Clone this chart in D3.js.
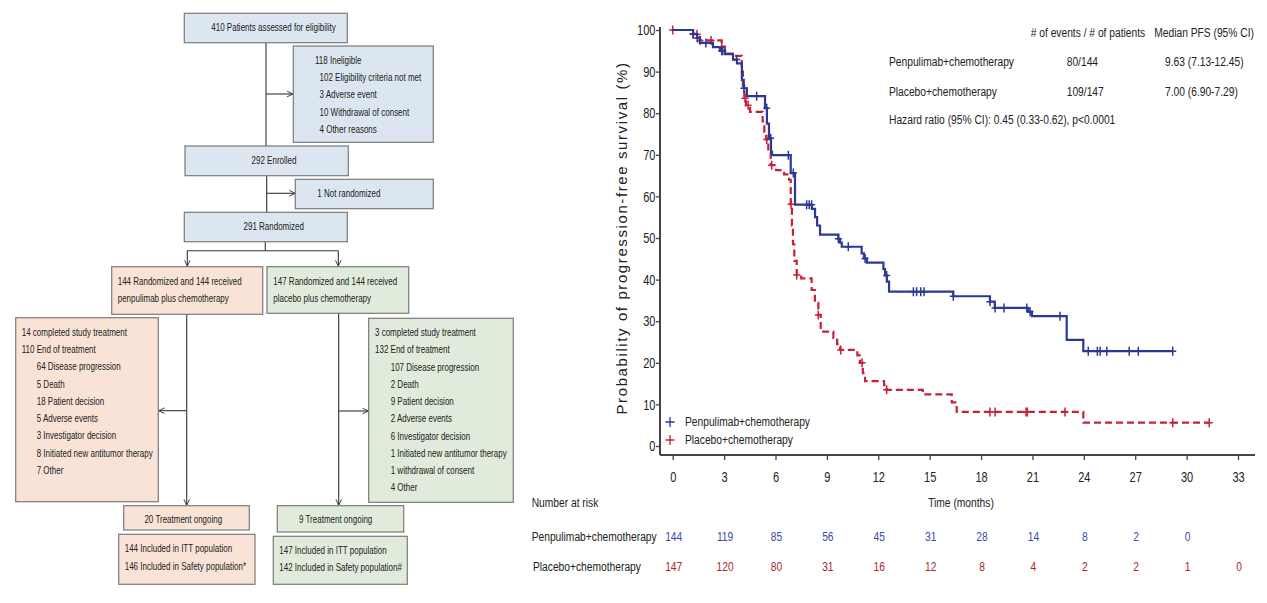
<!DOCTYPE html>
<html>
<head>
<meta charset="utf-8">
<script src="https://cdn.jsdelivr.net/npm/d3@7"></script>
<style>
  body { margin: 0; background: #fff; }
  text { font-family: "Liberation Sans", Arial, sans-serif; }
</style>
</head>
<body>
<script>
// ---- KM data (months, % progression-free) ----
var timeTicks = [0, 3, 6, 9, 12, 15, 18, 21, 24, 27, 30, 33];
var survTicks = [0, 10, 20, 30, 40, 50, 60, 70, 80, 90, 100];

var penTimes = [0, 1.19, 1.42, 1.59, 2.35, 2.76, 3.05, 3.52, 3.75, 4.04, 4.15, 4.33, 5.39, 5.50, 5.62, 5.74, 5.80,
  6.89, 7.14, 8.13, 8.31, 8.43, 8.60, 9.67, 9.77, 9.87, 11.03, 11.17, 11.33, 12.30, 12.40, 12.50, 12.63,
  16.38, 18.52, 18.80, 20.74, 20.97, 23.00, 23.97];
var penSurv = [100, 99.1, 98.1, 96.9, 95.9, 95.0, 94.2, 92.9, 92.0, 88.0, 86.0, 84.1, 81.2, 77.5, 74.0, 70.7, 69.9,
  65.6, 58.0, 57.0, 55.0, 53.0, 50.8, 49.8, 48.9, 47.9, 46.3, 45.1, 44.1, 42.5, 41.0, 39.5, 37.1,
  36.0, 34.7, 33.2, 32.3, 31.2, 25.5, 22.8];
var penEnd = 29.19;
var penCensor = [1.20, 1.44, 1.94, 2.86, 2.92, 3.74, 4.16, 4.90, 5.49, 5.72, 6.75, 7.04, 7.82, 7.97, 8.11,
  9.67, 10.25, 11.23, 12.49, 14.05, 14.24, 14.48, 14.67, 16.38, 18.52, 18.82, 19.34, 20.67, 20.86, 22.61,
  24.26, 24.79, 24.95, 25.34, 26.65, 27.18, 29.19];

var plaTimes = [0, 1.19, 1.59, 2.86, 3.05, 3.50, 4.03, 4.10, 4.18, 4.28, 4.51, 5.25, 5.35, 5.45, 5.58, 5.72,
  6.03, 6.50, 6.79, 6.89, 6.96, 7.02, 7.10, 7.24, 7.50, 8.11, 8.30, 8.50, 8.64, 9.38, 9.60, 9.77,
  10.78, 10.93, 11.10, 11.23, 12.34, 12.49, 14.60, 16.29, 16.58, 23.97];
var plaSurv = [100, 99.0, 97.5, 96.0, 94.3, 93.8, 90.0, 86.5, 83.6, 81.9, 80.3, 78.0, 75.5, 73.7, 70.5, 67.5,
  66.3, 65.3, 64.0, 58.1, 53.0, 48.5, 44.5, 41.1, 40.3, 37.5, 34.5, 31.5, 27.5, 26.0, 24.5, 23.1,
  21.8, 20.0, 17.5, 15.6, 14.6, 13.5, 12.4, 10.5, 8.2, 5.6];
var plaEnd = 31.32;
var plaCensor = [0, 1.19, 1.42, 1.59, 2.24, 2.86, 4.22, 4.40, 5.49, 5.78, 6.91, 7.24, 8.50, 9.81, 11.05,
  12.49, 18.52, 18.82, 20.63, 20.70, 22.90, 29.19, 31.32];

var riskTimes = [0, 3, 6, 9, 12, 15, 18, 21, 24, 27, 30, 33];
var penRisk = [144, 119, 85, 56, 45, 31, 28, 14, 8, 2, 0];
var plaRisk = [147, 120, 80, 31, 16, 12, 8, 4, 2, 2, 1, 0];

var armNames = ["Penpulimab+chemotherapy", "Placebo+chemotherapy"];
var armEvents = ["80/144", "109/147"];
var armMedian = ["9.63 (7.13-12.45)", "7.00 (6.90-7.29)"];
var hrText = "Hazard ratio (95% CI): 0.45 (0.33-0.62), p<0.0001";

// ---- flow diagram texts ----
var flowMain = ["410 Patients assessed for eligibility", "292 Enrolled", "291 Randomized"];
var flowIneligible = ["118 Ineligible", "102 Eligibility criteria not met", "3 Adverse event",
  "10 Withdrawal of consent", "4 Other reasons"];
var flowNotRand = "1 Not randomized";
var flowArmA = ["144 Randomized and 144 received", "penpulimab plus chemotherapy"];
var flowArmB = ["147 Randomized and 144 received", "placebo plus chemotherapy"];
var flowEndA = ["14 completed study treatment", "110 End of treatment", "64 Disease progression", "5 Death",
  "18 Patient decision", "5 Adverse events", "3 Investigator decision", "8 Initiated new antitumor therapy", "7 Other"];
var flowEndB = ["3 completed study treatment", "132 End of treatment", "107 Disease progression", "2 Death",
  "9 Patient decision", "2 Adverse events", "6 Investigator decision", "1 Initiated new antitumor therapy",
  "1 withdrawal of consent", "4 Other"];
var flowOngoing = ["20 Treatment ongoing", "9 Treatment ongoing"];
var flowPopA = ["144 Included in ITT population", "146 Included in Safety population*"];
var flowPopB = ["147 Included in ITT population", "142 Included in Safety population#"];

var W = 1267, H = 603;
var NARROW = 0.76; // no narrow face installed, so squeeze the sans horizontally
var blueFill = "#dce6f0", peachFill = "#f9e2d6", greenFill = "#e0ebdb";
var boxStroke = "#7a7a7a", lineCol = "#333";

var svg = d3.select("body").append("svg")
  .attr("width", W).attr("height", H);
svg.append("rect").attr("width", W).attr("height", H).attr("fill", "#fff");

// arrow marker
svg.append("defs").append("marker")
  .attr("id", "arr").attr("viewBox", "0 0 10 10")
  .attr("refX", 9.5).attr("refY", 5)
  .attr("markerWidth", 7).attr("markerHeight", 7)
  .attr("markerUnits", "userSpaceOnUse")
  .attr("orient", "auto")
  .append("path").attr("d", "M1,1 L9.5,5 L1,9")
  .attr("fill", "none").attr("stroke", lineCol).attr("stroke-width", 1.3);

// condensed text helper
function ctext(parent, x, y, str, size, fill, anchor, sx) {
  return parent.append("text")
    .attr("transform", "translate(" + x + "," + y + ") scale(" + (sx || NARROW) + ",1)")
    .attr("dy", "0.35em")
    .attr("text-anchor", anchor || "start")
    .style("font-size", size + "px")
    .attr("fill", fill || "#222")
    .text(str);
}

// ================= flow diagram =================
var flow = svg.append("g").attr("class", "flow");

function box(x0, y0, x1, y1, fill) {
  flow.append("rect").attr("x", x0).attr("y", y0)
    .attr("width", x1 - x0).attr("height", y1 - y0)
    .attr("fill", fill).attr("stroke", boxStroke).attr("stroke-width", 1.2);
}
function lines(list, x, y0, dy, indentFrom, indentX, anchor) {
  list.forEach(function(d, i) {
    ctext(flow, i >= indentFrom ? indentX : x, y0 + i * dy, d, 10.8, "#222", anchor, 0.74);
  });
}
function link(pts, arrow) {
  var p = flow.append("path").attr("d", d3.line()(pts))
    .attr("fill", "none").attr("stroke", lineCol).attr("stroke-width", 1.1);
  if (arrow) p.attr("marker-end", "url(#arr)");
}

// connectors
link([[266, 42.7], [266, 146]]);
link([[266, 94], [293, 94]], true);
link([[266.7, 175.7], [266.7, 212.3]]);
link([[266.7, 193.3], [295.3, 193.3]], true);
link([[265.3, 241.7], [265.3, 250.7]]);
link([[187.3, 250.7], [338.3, 250.7]]);
link([[187.3, 250.7], [187.3, 266.2]], true);
link([[338.3, 250.7], [338.3, 266.2]], true);
link([[186.7, 314.3], [186.7, 505.3]], true);
link([[186.7, 410.7], [158.6, 410.7]], true);
link([[338.7, 313.3], [338.7, 505.3]], true);
link([[338.7, 411], [368.4, 411]], true);

box(184.3, 13.3, 347.3, 42.7, blueFill);
lines([flowMain[0]], 273.5, 27.5, 0, 99, 0, "middle");
box(293.3, 46, 433.3, 142.3, blueFill);
lines(flowIneligible, 315, 60, 17.3, 1, 319.5);
box(185, 146, 348.3, 175.7, blueFill);
lines([flowMain[1]], 274, 160.5, 0, 99, 0, "middle");
box(295.3, 179.3, 433.3, 208.7, blueFill);
lines([flowNotRand], 317.3, 193.5, 0, 99, 0);
box(184.3, 212.3, 347.3, 241.7, blueFill);
lines([flowMain[2]], 273.7, 226.5, 0, 99, 0, "middle");

box(111.7, 266.7, 262.7, 314.3, peachFill);
lines(flowArmA, 117.7, 281.5, 16.5, 99, 0);
box(267, 266.7, 408.7, 313.3, greenFill);
lines(flowArmB, 273.3, 281.5, 16.5, 99, 0);

box(15.7, 317.7, 158.3, 501.7, peachFill);
lines(flowEndA, 21.7, 332, 17.25, 2, 36.7);
box(368.7, 318.3, 513.3, 502.3, greenFill);
lines(flowEndB, 375, 332.3, 17.25, 2, 390.7);

box(123.7, 505.7, 249.3, 530, peachFill);
lines([flowOngoing[0]], 183.3, 519.5, 0, 99, 0, "middle");
box(277.3, 505.7, 403.7, 532, greenFill);
lines([flowOngoing[1]], 299, 519.5, 0, 99, 0);

box(118.7, 534.3, 255, 584.3, peachFill);
lines(flowPopA, 124.7, 548.5, 17.3, 99, 0);
box(273.3, 536.3, 407.3, 584.3, greenFill);
lines(flowPopB, 279.3, 550, 17.3, 99, 0);

// ================= KM plot =================
var penCol = "#2b3896", plaCol = "#c8203a";
var penTxt = "#3b4aa6", plaTxt = "#a8262c";
var fs = 13.5;

var xScale = d3.scaleLinear().domain([0, 33]).range([672.7, 1238]);
var yScale = d3.scaleLinear().domain([0, 100]).range([446, 30]);
var km = svg.append("g").attr("class", "km");

// axes
var xAxis = d3.axisBottom(xScale).tickValues(timeTicks).tickSize(5).tickPadding(12);
var gx = km.append("g").attr("transform", "translate(0,455)").call(xAxis);
var yAxis = d3.axisLeft(yScale).tickValues(survTicks).tickSize(4).tickPadding(2);
var gy = km.append("g").attr("transform", "translate(660,0)").call(yAxis);
[gx, gy].forEach(function(g) {
  g.select(".domain").remove();
  g.selectAll(".tick line").attr("stroke", "#444").attr("stroke-width", 1.3);
  g.selectAll(".tick text").style("font-size", "14.5px").attr("fill", "#222")
    .style("font-family", "\"Liberation Sans\", Arial, sans-serif")
    .attr("transform", "scale(" + NARROW + ",1)");
});
km.append("line").attr("x1", 660).attr("x2", 1255).attr("y1", 455).attr("y2", 455)
  .attr("stroke", "#444").attr("stroke-width", 2);
km.append("line").attr("x1", 660).attr("x2", 660).attr("y1", 27).attr("y2", 455)
  .attr("stroke", "#444").attr("stroke-width", 2);

km.append("text")
  .attr("transform", "translate(622,238) rotate(-90)")
  .attr("text-anchor", "middle").attr("dy", "0.35em")
  .style("font-size", "15px").style("letter-spacing", "1.6px").attr("fill", "#222")
  .text("Probability of progression-free survival (%)");

function stepPts(times, surv, end) {
  var pts = times.map(function(t, i) { return [t, surv[i]]; });
  pts.push([end, surv[surv.length - 1]]);
  return pts;
}
function survAt(times, surv, t) {
  var i = d3.bisectRight(times, t) - 1;
  return surv[Math.max(i, 0)];
}
var stepLine = d3.line()
  .x(function(d) { return xScale(d[0]); })
  .y(function(d) { return yScale(d[1]); })
  .curve(d3.curveStepAfter);

function drawArm(times, surv, end, cens, col, dash) {
  var g = km.append("g");
  g.append("path").attr("d", stepLine(stepPts(times, surv, end)))
    .attr("fill", "none").attr("stroke", col).attr("stroke-width", 2.2)
    .attr("stroke-dasharray", dash || null);
  g.selectAll("path.cens").data(cens).enter().append("path")
    .attr("class", "cens")
    .attr("d", function(t) {
      var cx = xScale(t), cy = yScale(survAt(times, surv, t));
      return "M" + cx + "," + (cy - 4.5) + "V" + (cy + 4.5) + "M" + (cx - 3.5) + "," + cy + "H" + (cx + 3.5);
    })
    .attr("fill", "none").attr("stroke", col).attr("stroke-width", 1.5);
}
drawArm(plaTimes, plaSurv, plaEnd, plaCensor, plaCol, "7,4");
drawArm(penTimes, penSurv, penEnd, penCensor, penCol);

// legend
var legCols = [penCol, plaCol];
armNames.forEach(function(n, i) {
  var yy = 422 + i * 18;
  km.append("path").attr("d", "M670," + (yy - 5) + "V" + (yy + 5) + "M665.5," + yy + "H674.5")
    .attr("stroke", legCols[i]).attr("stroke-width", 1.3);
  ctext(km, 685, yy - 1, n, fs);
});

// stats table
ctext(km, 1030.7, 32.7, "# of events / # of patients", fs);
ctext(km, 1154.3, 32.7, "Median PFS (95% CI)", fs);
armNames.forEach(function(n, i) {
  var yy = 61.7 + i * 29.5;
  ctext(km, 889, yy, n, fs);
  ctext(km, 1066.7, yy, armEvents[i], fs);
  ctext(km, 1165, yy, armMedian[i], fs);
});
ctext(km, 889, 119.3, hrText, fs);

// number at risk
ctext(km, 531.7, 502.7, "Number at risk", fs);
ctext(km, 961, 502.7, "Time (months)", fs, "#222", "middle");
ctext(km, 531.7, 536, armNames[0], fs);
ctext(km, 533, 566.5, armNames[1], fs);
penRisk.forEach(function(d, i) {
  ctext(km, xScale(riskTimes[i]) + 1, 536, d, fs, penTxt, "middle");
});
plaRisk.forEach(function(d, i) {
  ctext(km, xScale(riskTimes[i]) + 1, 566.5, d, fs, plaTxt, "middle");
});
</script>
</body>
</html>
